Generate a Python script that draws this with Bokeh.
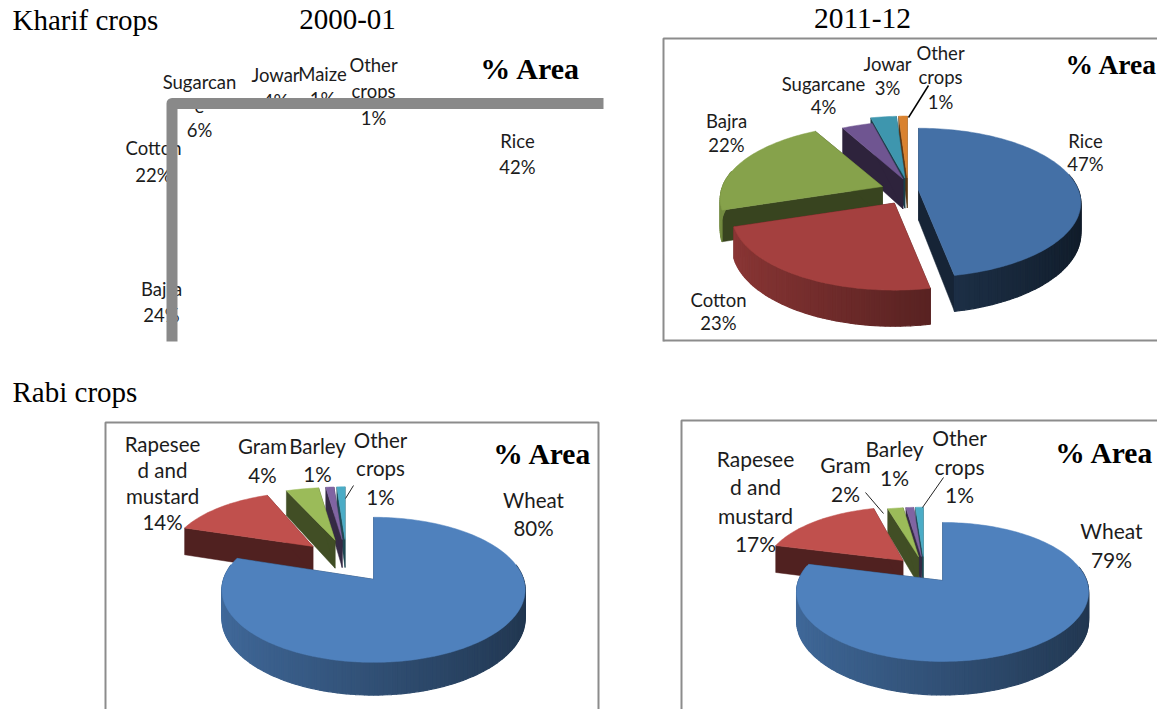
import math
from bokeh.plotting import figure
from bokeh.models import Range1d
from bokeh.embed import file_html
from bokeh.resources import INLINE
from bokeh.core.properties import value

# ---------- data ----------
k00_names = ["Rice", "Bajra", "Cotton", "Sugarcane", "Jowar", "Maize", "Other crops"]
k00_values = [42, 24, 22, 6, 4, 1, 1]
k11_names = ["Rice", "Cotton", "Bajra", "Sugarcane", "Jowar", "Other crops"]
k11_values = [47, 23, 22, 4, 3, 1]
r00_names = ["Wheat", "Rapeseed and mustard", "Gram", "Barley", "Other crops"]
r00_values = [80, 14, 4, 1, 1]
r11_names = ["Wheat", "Rapeseed and mustard", "Gram", "Barley", "Other crops"]
r11_values = [79, 17, 2, 1, 1]
wrap_k00 = {"Sugarcane": ["Sugarcan", "e"], "Other crops": ["Other", "crops"]}
wrap_k11 = {"Other crops": ["Other", "crops"]}
wrap_r = {"Rapeseed and mustard": ["Rapesee", "d and", "mustard"], "Other crops": ["Other", "crops"]}

# ---------- layout / style ----------
KH_COL = ["#4470a6", "#a4403f", "#86a24b", "#6f5591", "#3e96ae", "#d9822f"]
RB_COL = ["#4f81bd", "#c0504d", "#9bbb59", "#8064a2", "#4bacc6"]
K11 = dict(cx=899.4, cy=191, e=18.7, ey=13.5, rx=160, ry=72.4, q=.168, depth=30,
           nudge=[0, 4, 0, 10, 8, 8], tint=[.78, 1, 1, 1, 1, 1], a=.59, b=.27, col=KH_COL,
           xs=[1, 1, 1, .9, 1, 1], ys=[1, 1, 1, .92, 1, 1])
R00 = dict(cx=346, cy=561, e=46, ey=22, rx=150, ry=71, q=.145, depth=28,
           nudge=[0] * 5, tint=[1] * 5, a=.62, b=.2, col=RB_COL,
           xs=[1, .94, 1, 1, 1], ys=[1, .88, .85, .85, .85])
R11 = dict(cx=923.7, cy=569.4, e=30, ey=13.4, rx=144, ry=67.6, q=.165, depth=28,
           nudge=[0] * 5, tint=[1] * 5, a=.62, b=.2, col=RB_COL,
           xs=[1, .95, 1, 1, 1], ys=[1, .92, .85, .85, .85])

k00_pos = {"Rice": (517, 140, 26), "Bajra": (161, 288, 26), "Cotton": (153, 147, 27),
           "Sugarcane": (199, 81, 24), "Jowar": (275, 74, 26), "Maize": (322, 73, 25),
           "Other crops": (373, 64, 26.5)}
k11_pos = {"Rice": (1085, 140, 23.5), "Cotton": (718, 299, 23.5), "Bajra": (726, 120, 24),
           "Sugarcane": (823, 83, 23.5), "Jowar": (887, 63, 24), "Other crops": (940, 52, 24.5)}
r00_pos = {"Wheat": (533, 499, 28), "Rapeseed and mustard": (162, 443, 26.3), "Gram": (262, 445, 29),
           "Barley": (317, 445, 28.5), "Other crops": (380, 439, 28.5)}
r11_pos = {"Wheat": (1111, 530, 29), "Rapeseed and mustard": (755, 458, 28.3), "Gram": (845, 464, 29),
           "Barley": (894, 448, 29), "Other crops": (959, 437, 28.5)}

W, H = 1157, 709
p = figure(width=W, height=H, x_range=Range1d(0, W), y_range=Range1d(H, 0),
           toolbar_location=None, output_backend="svg", min_border=0,
           outline_line_color=None, background_fill_color="white", border_fill_color="white")
p.axis.visible = False
p.grid.visible = False


def shade(hex_col, f):
    r, g, b = [int(hex_col[i:i + 2], 16) for i in (1, 3, 5)]
    return "#%02x%02x%02x" % (int(r * f), int(g * f), int(b * f))


def draw_pie(vals, g):
    total = sum(vals)
    slices = []
    acc = 0
    for i, v in enumerate(vals):
        slices.append((i, acc / total * 360, (acc + v) / total * 360))
        acc += v

    def apex(i, t0, t1):
        m = math.radians((t0 + t1) / 2)
        return (g["cx"] + g["e"] * math.sin(m) + g["nudge"][i], g["cy"] - g["ey"] * math.cos(m))

    def rim(i, ax, ay, deg):
        t = math.radians(deg)
        s, c = math.sin(t), math.cos(t)
        w = 1 + g["q"] * c
        return (ax + g["rx"] * g["xs"][i] * s / w,
                ay - g["ry"] * g["ys"][i] * c / w,
                g["depth"] / w)

    for i, t0, t1 in sorted(slices, key=lambda s: apex(*s)[1]):
        ax, ay = apex(i, t0, t1)
        col = g["col"][i]
        n = max(2, int((t1 - t0) / 1.5))
        degs = [t0 + (t1 - t0) * j / n for j in range(n + 1)]
        pts = [rim(i, ax, ay, d) for d in degs]
        dark = shade(col, .42 * g["tint"][i])
        # radial walls
        for x, y, d in (pts[0], pts[-1]):
            p.patch([ax, x, x, ax], [ay, y, y + d, ay + g["depth"]], fill_color=dark, line_color=dark, line_width=.5)
        # outer wall, shaded across its width
        xs, ys, cols = [], [], []
        for j in range(n):
            if math.cos(math.radians(degs[j])) > .2 and math.cos(math.radians(degs[j + 1])) > .2:
                continue
            x0, y0, d0 = pts[j]
            x1, y1, d1 = pts[j + 1]
            xs.append([x0, x1, x1, x0])
            ys.append([y0, y1, y1 + d1, y0 + d0])
            sn = math.sin(math.radians((degs[j] + degs[j + 1]) / 2))
            f = (g["a"] - g["b"] * sn) * g["tint"][i]
            cols.append(shade(col, f))
        if xs:
            p.patches(xs, ys, fill_color=cols, line_color=cols, line_width=1.2)
        # top face
        p.patch([ax] + [q[0] for q in pts], [ay] + [q[1] for q in pts], fill_color=col, line_color=col, line_width=.5)


def labels(names, vals, wrap, pos, size):
    xs, ys, ts = [], [], []
    for n, v in zip(names, vals):
        x, y, step = pos[n]
        for j, line in enumerate(wrap.get(n, [n]) + [f"{v}%"]):
            xs.append(x)
            ys.append(y + j * step)
            ts.append(line)
    p.text(xs, ys, text=ts, text_font=value("Lato"), text_font_size=size, text_color="#1c1c1c",
           text_align="center", text_baseline="middle")


def serif(x, y, t, size, bold=False, align="center"):
    p.text([x], [y], text=[t], text_font=value("Liberation Serif"), text_font_size=size,
           text_font_style="bold" if bold else "normal", text_color="black",
           text_align=align, text_baseline="middle")


FRAME = "#8c8c8c"
# frames
p.line([663, 663, 1157], [341, 38, 38], line_color=FRAME, line_width=2)
p.line([663, 1157], [340, 340], line_color=FRAME, line_width=2)
p.line([105, 105, 598, 598], [709, 422, 422, 709], line_color=FRAME, line_width=2)
p.line([681, 681, 1157], [709, 420, 420], line_color=FRAME, line_width=2)

draw_pie(k11_values, K11)
draw_pie(r00_values, R00)
draw_pie(r11_values, R11)

labels(k00_names, k00_values, wrap_k00, k00_pos, "18.5px")
labels(k11_names, k11_values, wrap_k11, k11_pos, "18.5px")
labels(r00_names, r00_values, wrap_r, r00_pos, "20.5px")
labels(r11_names, r11_values, wrap_r, r11_pos, "21px")

# leader lines
p.line([908, 928], [117, 85], line_color="black", line_width=1.5)
p.line([345, 353], [498, 485], line_color="#222222", line_width=1)
p.line([922, 943], [507, 477], line_color="#222222", line_width=1)
p.line([865, 883], [492, 513], line_color="#222222", line_width=1)

# thick frame of the 2000-01 kharif chart, drawn over its labels
p.line([171.5, 171.5, 603], [341, 103, 103], line_color="#898989", line_width=11, line_join="round")

serif(12, 19, "Kharif crops", "29px", align="left")
serif(347, 19, "2000-01", "29px")
serif(862, 18, "2011-12", "29.5px")
serif(12, 391, "Rabi crops", "29px", align="left")
serif(530, 68, "% Area", "30px", bold=True)
serif(1111, 64, "% Area", "27.5px", bold=True)
serif(542, 453, "% Area", "29.5px", bold=True)
serif(1104, 452, "% Area", "29.5px", bold=True)

open("out.html", "w").write(file_html(p, INLINE))
